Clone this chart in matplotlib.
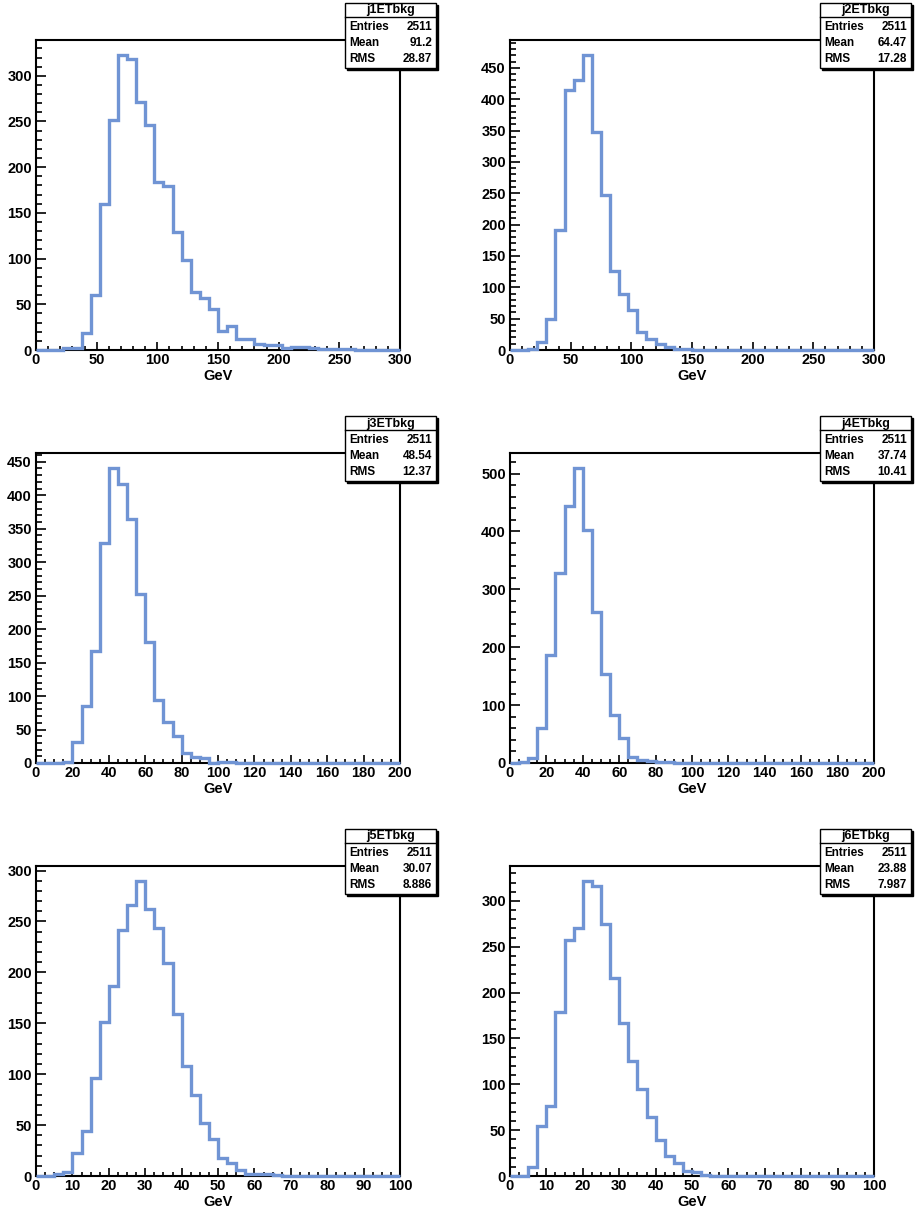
import matplotlib
matplotlib.use("Agg")
import matplotlib.pyplot as plt
import numpy as np
from matplotlib.ticker import MultipleLocator
from matplotlib.patches import Rectangle
from matplotlib.lines import Line2D

plt.rcParams['font.family'] = ['Liberation Sans', 'DejaVu Sans']
plt.rcParams['font.weight'] = 'bold'

# ---------------- data ----------------
titles = ["j1ETbkg", "j2ETbkg", "j3ETbkg", "j4ETbkg", "j5ETbkg", "j6ETbkg"]
x_max = [300, 300, 200, 200, 100, 100]
entries = ["2511", "2511", "2511", "2511", "2511", "2511"]
means = ["91.2", "64.47", "48.54", "37.74", "30.07", "23.88"]
rmss = ["28.87", "17.28", "12.37", "10.41", "8.886", "7.987"]

counts_j1 = [0, 0, 0, 2, 2, 19, 60, 160, 252, 323, 318, 271, 246, 184, 179, 129, 99, 64, 57, 45,
             21, 26, 12, 12, 7, 5, 6, 2, 3, 3, 2, 1, 1, 1, 1, 0, 0, 0, 0, 0]
counts_j2 = [0, 0, 2, 13, 50, 192, 414, 431, 471, 348, 247, 126, 89, 64, 29, 17, 9, 5, 2, 1,
             0, 0, 0, 0, 0, 0, 0, 0, 0, 0, 0, 0, 0, 0, 0, 0, 0, 0, 0, 0]
counts_j3 = [0, 0, 0, 1, 32, 85, 168, 329, 441, 416, 364, 253, 180, 94, 61, 41, 15, 9, 8, 0,
             1, 1, 0, 0, 0, 0, 0, 0, 0, 0, 0, 0, 0, 0, 0, 0, 0, 0, 0, 0]
counts_j4 = [0, 1, 8, 61, 186, 329, 444, 510, 402, 261, 153, 83, 43, 10, 6, 4, 2, 1, 0, 0,
             0, 0, 0, 0, 0, 0, 0, 0, 0, 0, 0, 0, 0, 0, 0, 0, 0, 0, 0, 0]
counts_j5 = [0, 0, 2, 4, 23, 44, 96, 151, 187, 242, 266, 290, 262, 244, 209, 159, 108, 80, 52, 36,
             18, 13, 6, 2, 2, 2, 1, 0, 0, 0, 0, 0, 0, 0, 0, 0, 0, 0, 0, 0]
counts_j6 = [0, 0, 10, 54, 76, 179, 257, 271, 322, 316, 275, 216, 167, 125, 95, 64, 39, 22, 14, 5,
             4, 1, 0, 0, 0, 0, 0, 0, 0, 0, 0, 0, 0, 0, 0, 0, 0, 0, 0, 0]
all_counts = [counts_j1, counts_j2, counts_j3, counts_j4, counts_j5, counts_j6]

# tick steps (major, minor) per panel
x_major = [50, 50, 20, 20, 10, 10]
x_minor = [10, 10, 5, 5, 2.5, 2.5]
y_major = [50, 50, 50, 100, 50, 50]
y_minor = [10, 10, 10, 20, 10, 10]

# ---------------- layout ----------------
W, H = 915, 1213
fig = plt.figure(figsize=(W / 100, H / 100), dpi=100)
fig.patch.set_facecolor('white')

col_x = [(36, 400), (510, 874)]
row_y = [(40, 350), (453, 763), (866, 1176)]
box_x = [(345, 436), (820, 911)]

LINE_COLOR = '#7094d4'


def fr(x0, y0, x1, y1):
    return [x0 / W, 1 - y1 / H, (x1 - x0) / W, (y1 - y0) / H]


for i in range(6):
    r, c = divmod(i, 2)
    x0, x1 = col_x[c]
    y0, y1 = row_y[r]
    ax = fig.add_axes(fr(x0, y0, x1, y1))
    counts = np.array(all_counts[i], dtype=float)
    edges = np.linspace(0, x_max[i], len(counts) + 1)
    ax.stairs(counts, edges, baseline=0, color=LINE_COLOR, lw=2.4, zorder=3, clip_on=False)
    ax.set_xlim(0, x_max[i])
    ax.set_ylim(0, counts.max() * 1.05)
    ax.xaxis.set_major_locator(MultipleLocator(x_major[i]))
    ax.xaxis.set_minor_locator(MultipleLocator(x_minor[i]))
    ax.yaxis.set_major_locator(MultipleLocator(y_major[i]))
    ax.yaxis.set_minor_locator(MultipleLocator(y_minor[i]))
    ax.tick_params(axis='both', which='both', direction='in', top=False, right=False,
                   width=1.2, color='black', labelsize=10.5)
    ax.tick_params(axis='y', which='major', length=7, pad=3)
    ax.tick_params(axis='y', which='minor', length=4)
    ax.tick_params(axis='x', which='major', length=6, pad=2)
    ax.tick_params(axis='x', which='minor', length=3)
    ax.xaxis.set_major_formatter(matplotlib.ticker.FuncFormatter(lambda v, p: f"{v:g}"))
    ax.yaxis.set_major_formatter(matplotlib.ticker.FuncFormatter(lambda v, p: f"{v:g}"))
    for s in ax.spines.values():
        s.set_linewidth(1.5)
        s.set_color('black')
    for lab in ax.get_xticklabels() + ax.get_yticklabels():
        lab.set_fontweight('bold')

    # x axis title
    fig.text((x0 + x1) / 2 / W, 1 - (y1 + 26) / H, "GeV", ha='center', va='center',
             fontsize=10.5, fontweight='bold')

    # stats box
    bx0, bx1 = box_x[c]
    bt = y0 - 37
    bb = y0 + 28
    shadow = Rectangle(((bx0 + 2) / W, 1 - (bb + 2) / H), (bx1 - bx0) / W, (bb - bt) / H,
                       transform=fig.transFigure, facecolor='black', edgecolor='black',
                       lw=1.0, zorder=10)
    fig.add_artist(shadow)
    box = Rectangle((bx0 / W, 1 - bb / H), (bx1 - bx0) / W, (bb - bt) / H,
                    transform=fig.transFigure, facecolor='white', edgecolor='black',
                    lw=1.0, zorder=11)
    fig.add_artist(box)
    sep_y = 1 - (bt + 14) / H
    fig.add_artist(Line2D([bx0 / W, bx1 / W], [sep_y, sep_y], transform=fig.transFigure,
                          color='black', lw=1.0, zorder=12))
    fig.text((bx0 + bx1) / 2 / W, 1 - (bt + 7.5) / H, titles[i], ha='center', va='center',
             fontsize=9, fontweight='bold', zorder=13)
    rows = [("Entries", entries[i]), ("Mean", means[i]), ("RMS", rmss[i])]
    for k, (lab, val) in enumerate(rows):
        yy = 1 - (bt + 24 + k * 16) / H
        fig.text((bx0 + 4) / W, yy, lab, ha='left', va='center', fontsize=8.5,
                 fontweight='bold', zorder=13)
        fig.text((bx1 - 4) / W, yy, val, ha='right', va='center', fontsize=8.5,
                 fontweight='bold', zorder=13)

fig.savefig("out.png", dpi=100)
